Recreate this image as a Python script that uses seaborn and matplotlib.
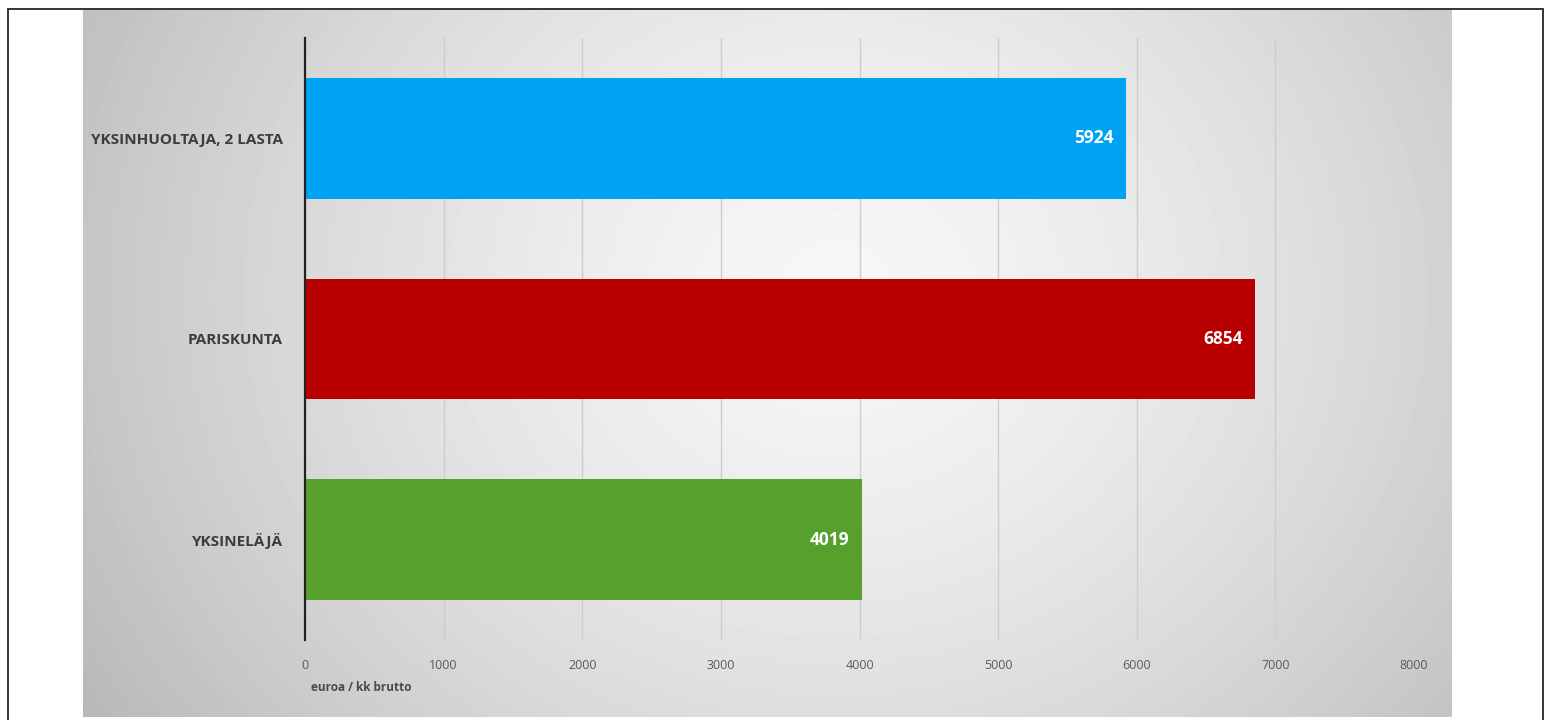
import numpy as np
import pandas as pd
import matplotlib
matplotlib.use("Agg")
import matplotlib.pyplot as plt
from matplotlib.patches import Rectangle
import seaborn as sns

categories = ["YKSINHUOLTAJA, 2 LASTA", "PARISKUNTA", "YKSINELÄJÄ"]
values = [5924, 6854, 4019]
bar_colors = ["#00A2F4", "#B80000", "#58A02C"]
x_ticks = [0, 1000, 2000, 3000, 4000, 5000, 6000, 7000, 8000]
x_label = "euroa / kk brutto"

sns.set_theme(style="white")
plt.rcParams["font.family"] = ["Open Sans", "DejaVu Sans"]

W, H = 1551, 720
fig = plt.figure(figsize=(W / 100, H / 100), dpi=100)
fig.patch.set_facecolor("white")

# grey panel with a soft radial gradient
bg = fig.add_axes([83 / W, 1 - 717 / H, (1451 - 83) / W, (717 - 10) / H])
gx = np.linspace(-1, 1, 400)
gy = np.linspace(-1, 1, 200)
GX, GY = np.meshgrid(gx, gy)
cx, cy = 0.1, -0.2
r = np.sqrt(((GX - cx) / 1.1) ** 2 + ((GY - cy) / 1.9) ** 2)
shade = 0.965 - 0.19 * np.clip(r, 0, 1.2) ** 1.5
bg.imshow(shade, cmap="gray", vmin=0, vmax=1, aspect="auto",
          extent=[0, 1, 0, 1], interpolation="bilinear")
bg.set_axis_off()

# outer frame
fig.patches.append(Rectangle((8 / W, -0.01), (1543 - 8) / W, 1 - 9 / H + 0.01,
                             transform=fig.transFigure, fill=False,
                             edgecolor="#333333", linewidth=1.4, zorder=10))

ax = fig.add_axes([305 / W, 1 - 640 / H, (1414 - 305) / W, (640 - 38) / H])
ax.patch.set_alpha(0)

df = pd.DataFrame({"category": categories, "value": values})
sns.barplot(data=df, y="category", x="value", hue="category",
            palette=bar_colors, orient="h", width=0.6, legend=False,
            saturation=1, linewidth=0, ax=ax, zorder=3)

ax.set_xlim(0, 8000)
ax.set_ylim(2.5, -0.5)
ax.set_xticks(x_ticks)
ax.set_xticklabels([str(t) for t in x_ticks], fontsize=9, color="#5a5a5a")
ax.tick_params(axis="x", length=0, pad=14)
ax.tick_params(axis="y", length=0, pad=16)
for lbl in ax.get_yticklabels():
    lbl.set_fontsize(11)
    lbl.set_fontweight("bold")
    lbl.set_color("#3c3c3c")

ax.grid(axis="x", color="#cdcdcd", linewidth=1.0, zorder=0)
ax.set_axisbelow(True)
for side in ["top", "right", "bottom"]:
    ax.spines[side].set_visible(False)
ax.spines["left"].set_color("#222222")
ax.spines["left"].set_linewidth(1.6)
ax.spines["left"].set_zorder(5)

ax.set_ylabel("")
ax.set_xlabel(x_label, fontsize=8.5, fontweight="bold", color="#4a4a4a",
              loc="left", labelpad=6)
ax.xaxis.label.set_x(0.005)

for i, v in enumerate(values):
    ax.text(v - 90, i, str(v), ha="right", va="center", color="white",
            fontsize=12.5, fontweight="bold", zorder=6)

fig.savefig("out.png", dpi=100, facecolor="white")
